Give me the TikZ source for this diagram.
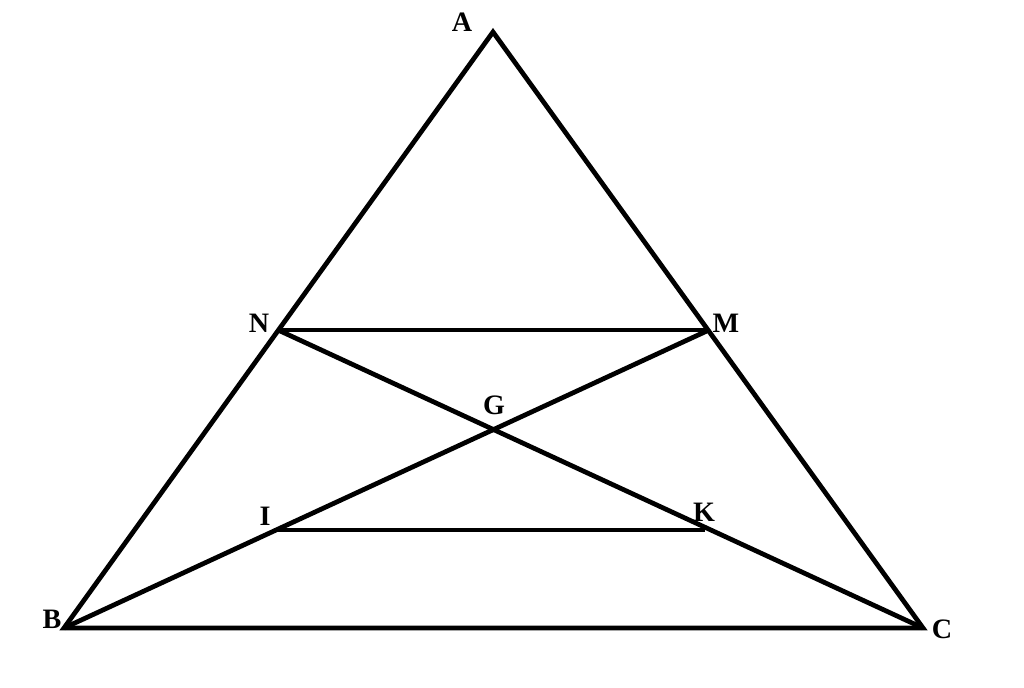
\documentclass[tikz,border=0pt]{standalone}
\usepackage{fontspec}
\setmainfont{Liberation Serif}
\usetikzlibrary{positioning}

\begin{document}
\begin{tikzpicture}
		[
		x = 0.02cm, y = -0.02cm,
		line width = 2.7pt,
		lbl/.style = {font = \fontsize{16}{19}\selectfont\bfseries, inner sep = 0pt}
		]
		\useasboundingbox (0,0) rectangle (1024,688);
		
		\coordinate (A) at (493,32);
		\coordinate (B) at (64,628);
		\coordinate (C) at (923,628);
		\coordinate (N) at (278,330);
		\coordinate (M) at (709,330);
		\coordinate (G) at (492,430);
		\coordinate (I) at (275,530);
		\coordinate (K) at (705,530);
		
		\draw (A) -- (B) -- (C) -- cycle;
		\draw (N) -- (M);
		\draw (I) -- (K);
		\draw (B) -- (M);
		\draw (C) -- (N);
		
		\node [lbl] (lA) at (462,22) {A};
		\node [lbl] (lB) at (52,619) {B};
		\node [lbl] (lC) at (942,629) {C};
		\node [lbl] (lN) at (259,323) {N};
		\node [lbl] (lM) at (726,323) {M};
		\node [lbl] (lG) at (494,405) {G};
		\node [lbl] (lI) at (265,516) {I};
		\node [lbl] (lK) at (704,512) {K};
		
		\end{tikzpicture}
\end{document}
